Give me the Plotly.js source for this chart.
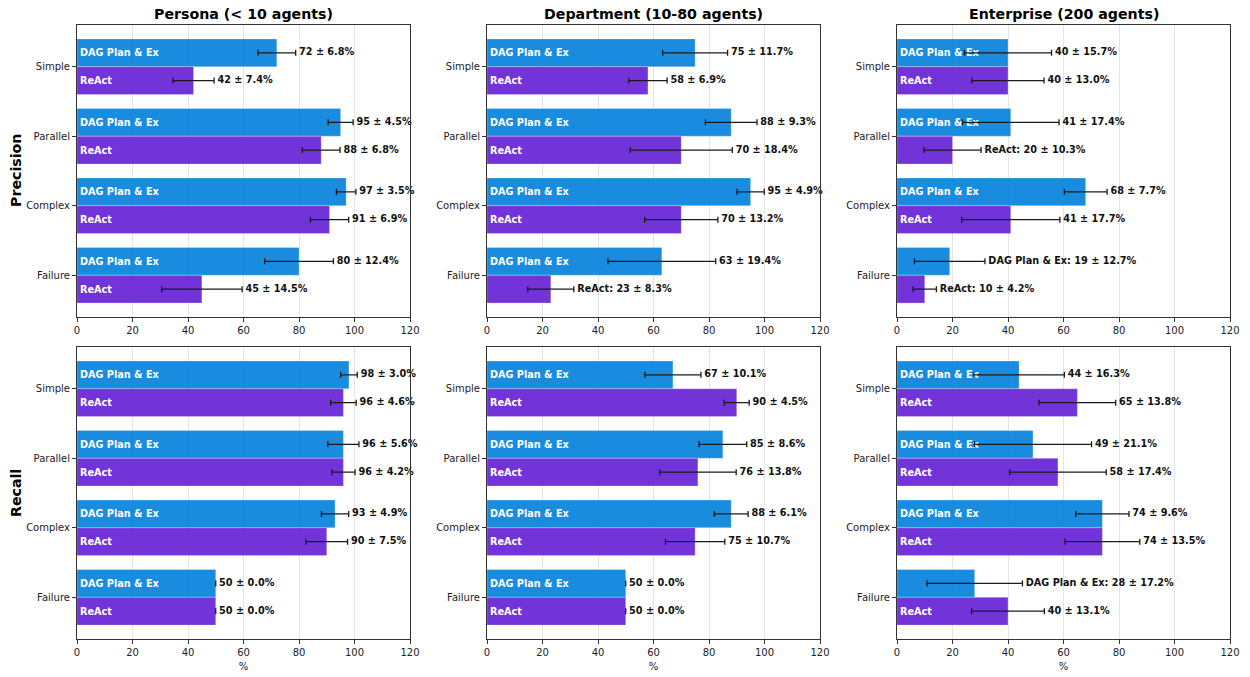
<!DOCTYPE html>
<html>
<head>
<meta charset="utf-8">
<script src="https://cdn.plot.ly/plotly-3.0.1.min.js"></script>
<style>html,body{margin:0;padding:0;background:#fff;}#chart{width:1250px;height:677px;}</style>
</head>
<body>
<div id="chart"></div>
<script>
// ---- data ----
const categories = ['Simple', 'Parallel', 'Complex', 'Failure'];
const methods = ['DAG Plan & Ex', 'ReAct'];
const scales = ['Persona (< 10 agents)', 'Department (10-80 agents)', 'Enterprise (200 agents)'];
const metrics = ['Precision', 'Recall'];

// one row per scale (Persona, Department, Enterprise), values per category
const precisionDagMean   = [[72, 95, 97, 80], [75, 88, 95, 63], [40, 41, 68, 19]];
const precisionDagStd    = [[6.8, 4.5, 3.5, 12.4], [11.7, 9.3, 4.9, 19.4], [15.7, 17.4, 7.7, 12.7]];
const precisionReactMean = [[42, 88, 91, 45], [58, 70, 70, 23], [40, 20, 41, 10]];
const precisionReactStd  = [[7.4, 6.8, 6.9, 14.5], [6.9, 18.4, 13.2, 8.3], [13.0, 10.3, 17.7, 4.2]];
const recallDagMean      = [[98, 96, 93, 50], [67, 85, 88, 50], [44, 49, 74, 28]];
const recallDagStd       = [[3.0, 5.6, 4.9, 0.0], [10.1, 8.6, 6.1, 0.0], [16.3, 21.1, 9.6, 17.2]];
const recallReactMean    = [[96, 96, 90, 50], [90, 76, 75, 50], [65, 58, 74, 40]];
const recallReactStd     = [[4.6, 4.2, 7.5, 0.0], [4.5, 13.8, 10.7, 0.0], [13.8, 17.4, 13.5, 13.1]];

// ---- style ----
const colors = ['rgba(0,128,221,0.9)', 'rgba(99,30,212,0.9)'];
const FONT = 'DejaVu Sans';
const insideMin = 30;
const xDomains = [[0.0616, 0.328], [0.3896, 0.656], [0.7176, 0.984]];
const yDomains = [[0.5318, 0.9631], [0.0561, 0.4874]];
const groupOffset = [-0.2, 0.2];

const meanData = [[precisionDagMean, precisionReactMean], [recallDagMean, recallReactMean]];
const stdData = [[precisionDagStd, precisionReactStd], [recallDagStd, recallReactStd]];

const traces = [];
const layout = {
  width: 1250, height: 677,
  margin: {l: 0, r: 0, t: 0, b: 0},
  paper_bgcolor: '#fff', plot_bgcolor: '#fff',
  showlegend: false,
  barmode: 'group', bargap: 0.2, bargroupgap: 0,
  font: {family: FONT, size: 10, color: '#222'},
  annotations: [], shapes: []
};

const catIdx = categories.map((c, i) => i);

for (let r = 0; r < metrics.length; r++) {
  for (let c = 0; c < scales.length; c++) {
    const n = r * 3 + c + 1;
    const xa = 'x' + (n === 1 ? '' : n), ya = 'y' + (n === 1 ? '' : n);
    for (let m = 0; m < methods.length; m++) {
      const means = meanData[r][m][c];
      const stds = stdData[r][m][c];
      traces.push({
        type: 'bar', orientation: 'h', xaxis: xa, yaxis: ya,
        y: catIdx, x: means,
        marker: {color: colors[m], line: {color: 'rgba(255,255,255,0.35)', width: 0.8}},
        text: means.map(v => v >= insideMin ? methods[m] : ''),
        textposition: 'inside', insidetextanchor: 'start', textangle: 0,
        constraintext: 'none',
        textfont: {family: FONT, size: 9.7, color: '#fff', weight: 'bold'},
        error_x: {type: 'data', array: stds, visible: true, color: '#1a1a1a', thickness: 1.3, width: 3},
        hoverinfo: 'skip'
      });
      traces.push({
        type: 'scatter', mode: 'text', xaxis: xa, yaxis: ya,
        x: means.map((v, i) => v + stds[i]),
        y: catIdx.map(i => i + groupOffset[m]),
        text: means.map((v, i) => '\u00a0' + (v >= insideMin ? '' : methods[m] + ': ') + Math.round(v) + ' ± ' + stds[i].toFixed(1) + '%'),
        textposition: 'middle right',
        textfont: {family: FONT, size: 9.7, color: '#111', weight: 'bold'},
        cliponaxis: false, hoverinfo: 'skip'
      });
    }
    layout['xaxis' + (n === 1 ? '' : n)] = {
      domain: xDomains[c], anchor: ya, range: [0, 120], tickvals: [0, 20, 40, 60, 80, 100, 120],
      showgrid: true, gridcolor: '#e4e4e4', gridwidth: 1, zeroline: false,
      showline: true, mirror: true, linecolor: '#333', linewidth: 1,
      ticks: 'outside', ticklen: 4, tickcolor: '#333',
      tickfont: {family: FONT, size: 10, color: '#222'},
      title: r === 1 ? {text: '%', font: {family: FONT, size: 10, color: '#222'}, standoff: 5} : {text: ''},
      automargin: false, fixedrange: true
    };
    layout['yaxis' + (n === 1 ? '' : n)] = {
      domain: yDomains[r], anchor: xa, range: [3.6, -0.6],
      tickvals: catIdx, ticktext: categories,
      showgrid: false, zeroline: false,
      showline: true, mirror: true, linecolor: '#333', linewidth: 1,
      ticks: 'outside', ticklen: 4, tickcolor: '#333',
      tickfont: {family: FONT, size: 10, color: '#222'},
      automargin: false, fixedrange: true
    };
    layout.shapes.push({
      type: 'line', xref: xa, yref: ya + ' domain', x0: 100, x1: 100, y0: 0, y1: 1,
      line: {color: '#bbbbbb', width: 1, dash: '3px,2px'}, layer: 'below'
    });
    if (r === 0) {
      layout.annotations.push({
        xref: 'paper', yref: 'paper', x: (xDomains[c][0] + xDomains[c][1]) / 2, y: 0.979,
        xanchor: 'center', yanchor: 'middle', showarrow: false,
        text: '<b>' + scales[c] + '</b>', font: {family: FONT, size: 14.2, color: '#000'}
      });
    }
  }
  layout.annotations.push({
    xref: 'paper', yref: 'paper', x: 0.0128, y: (yDomains[r][0] + yDomains[r][1]) / 2,
    xanchor: 'center', yanchor: 'middle', showarrow: false, textangle: -90,
    text: '<b>' + metrics[r] + '</b>', font: {family: FONT, size: 14.2, color: '#000'}
  });
}

Plotly.newPlot('chart', traces, layout, {staticPlot: true, displayModeBar: false});
</script>
</body>
</html>
